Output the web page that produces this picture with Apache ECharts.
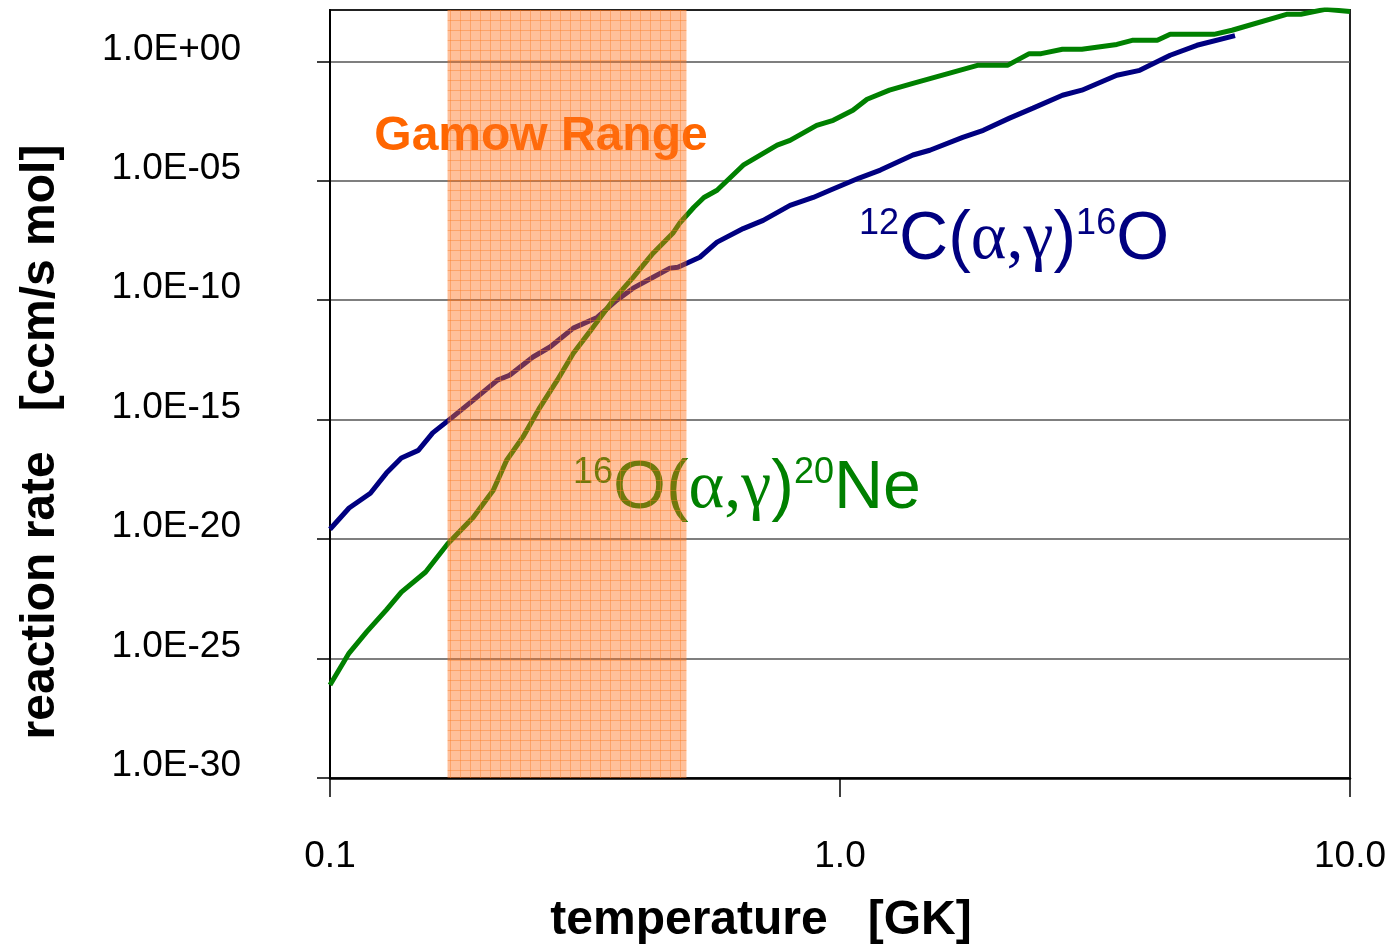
<!DOCTYPE html>
<html><head><meta charset="utf-8">
<script src="https://cdn.jsdelivr.net/npm/echarts@6/dist/echarts.min.js"></script>
<style>html,body{margin:0;padding:0;background:#fff}#c{width:1391px;height:947px}</style>
</head><body><div id="c"></div>
<script>
// temperature [GK] and reaction rate [ccm/s mol] for 12C(a,g)16O
const tempC = [0.100,0.109,0.120,0.129,0.138,0.149,0.159,0.170,0.191,0.213,0.225,0.250,0.270,0.300,0.334,0.365,0.393,0.430,0.464,0.481,0.531,0.574,0.646,0.707,0.798,0.886,0.956,1.09,1.20,1.39,1.50,1.74,1.91,2.15,2.39,2.73,2.98,3.49,3.87,4.44,5.01,5.95];
const rateC = [2.6e-20,2.0e-19,8.3e-19,5.8e-18,2.5e-17,5.2e-17,2.8e-16,8.7e-16,6.6e-15,4.5e-14,7.2e-14,4.2e-13,1.1e-12,6.8e-12,1.9e-11,1.0e-10,3.2e-10,9.1e-10,2.2e-9,2.4e-9,6.3e-9,2.7e-8,1.0e-7,2.2e-7,9.3e-7,2.0e-6,4.0e-6,1.3e-5,2.8e-5,1.2e-4,1.9e-4,6.6e-4,1.3e-3,4.2e-3,1.1e-2,3.8e-2,6.2e-2,0.26,0.42,1.8,4.7,12];
// 16O(a,g)20Ne
const tempO = [0.100,0.109,0.118,0.129,0.138,0.154,0.170,0.191,0.209,0.222,0.239,0.258,0.279,0.300,0.327,0.359,0.393,0.430,0.470,0.486,0.517,0.541,0.574,0.646,0.753,0.798,0.900,0.970,1.06,1.13,1.25,1.39,1.86,2.13,2.35,2.48,2.73,2.98,3.49,3.74,4.19,4.44,5.41,5.87,7.51,8.01,8.95,10.0];
const rateO = [7.8e-27,1.7e-25,1.3e-24,1.1e-23,6.0e-23,4.2e-22,6.2e-21,8.3e-20,1.1e-18,2.0e-17,1.9e-16,3.3e-15,4.5e-14,6.0e-13,6.8e-12,1.0e-10,9.1e-10,9.3e-9,6.3e-8,1.8e-7,7.8e-7,2.0e-6,4.0e-6,4.5e-5,3.1e-4,4.9e-4,2.1e-3,3.4e-3,8.9e-3,2.6e-2,6.2e-2,0.12,0.68,0.68,2.1,2.1,3.2,3.2,5.1,7.6,7.6,13.5,13.5,20,93,93,150,123];
const gamowRange = [0.17, 0.5];
const xTickValues = [0.1, 1, 10];
const xTickLabels = ['0.1','1.0','10.0'];
const yTickValues = [1e-30, 1e-25, 1e-20, 1e-15, 1e-10, 1e-5, 1];
const yTickLabels = ['1.0E-30','1.0E-25','1.0E-20','1.0E-15','1.0E-10','1.0E-05','1.0E+00'];
const xAxisName = 'temperature   [GK]';
const yAxisName = 'reaction rate   [ccm/s mol]';
const gamowLabel = 'Gamow Range';
const labelC = '{s|12}{m|C(}{g|α,γ}{m|)}{s|16}{m|O}';
const labelO = '{s|16}{m|O(}{g|α,γ}{m|)}{s|20}{m|Ne}';

const SANS = '"Liberation Sans", Arial, Helvetica, sans-serif';
const SERIF = '"Liberation Serif", "Times New Roman", serif';

// hatched orange pattern for Gamow band
const pc = document.createElement('canvas');
pc.width = 10; pc.height = 10;
const g = pc.getContext('2d');
g.fillStyle = 'rgba(255,112,24,0.44)';
g.fillRect(0, 0, 10, 10);
g.fillStyle = 'rgba(250,120,30,0.4)';
g.fillRect(0, 0, 10, 1);
g.fillRect(0, 0, 1, 10);

function nearestIndex(arr, v) {
  let best = -1, bd = Infinity;
  arr.forEach((a, i) => { const d = Math.abs(Math.log10(a) - Math.log10(v)); if (d < bd) { bd = d; best = i; } });
  return bd < 0.01 ? best : -1;
}

const chart = echarts.init(document.getElementById('c'));
function rich(color) {
  return {
    s: {fontSize: 36, fontFamily: SANS, fill: color, verticalAlign: 'top', lineHeight: 36},
    m: {fontSize: 68, fontFamily: SANS, fill: color, lineHeight: 68},
    g: {fontSize: 68, fontFamily: SERIF, fill: color, lineHeight: 68}
  };
}
chart.setOption({
  animation: false,
  backgroundColor: '#fff',
  grid: {left: 330, right: 41, top: 10, bottom: 169, show: true, borderColor: '#222', borderWidth: 2, containLabel: false, outerBoundsMode: 'none'},
  xAxis: {
    type: 'log', logBase: 10, min: 0.1, max: 10,
    axisLine: {lineStyle: {color: '#000', width: 2.5}},
    axisTick: {length: 19, lineStyle: {color: '#000', width: 1.5}},
    minorTick: {show: false},
    splitLine: {show: false},
    axisLabel: {margin: 60, fontSize: 37, color: '#000', fontFamily: SANS,
      formatter: v => { const i = nearestIndex(xTickValues, v); return i < 0 ? '' : xTickLabels[i]; }}
  },
  yAxis: {
    type: 'log', logBase: 10, min: 1e-30, max: 141, interval: 5,
    axisLine: {lineStyle: {color: '#000', width: 2}},
    axisTick: {length: 13, lineStyle: {color: '#000', width: 1.5}, customValues: yTickValues},
    splitLine: {lineStyle: {color: '#555', width: 1.5}},
    axisLabel: {margin: 89, fontSize: 37, color: '#000', fontFamily: SANS, verticalAlign: 'bottom', lineHeight: 24,
      showMinLabel: true, customValues: yTickValues,
      formatter: v => { const i = nearestIndex(yTickValues, v); return i < 0 ? '' : yTickLabels[i]; }}
  },
  series: [
    {type: 'line', name: '12C(a,g)16O', data: tempC.map((t, i) => [t, rateC[i]]), showSymbol: false, symbol: 'none',
      lineStyle: {color: '#000080', width: 5}, itemStyle: {color: '#000080'}, z: 3, silent: true},
    {type: 'line', name: '16O(a,g)20Ne', data: tempO.map((t, i) => [t, rateO[i]]), showSymbol: false, symbol: 'none',
      lineStyle: {color: '#008000', width: 5}, itemStyle: {color: '#008000'}, z: 3, silent: true},
    {type: 'line', name: 'Gamow', data: [], z: 10, silent: true,
      markArea: {silent: true, z: 10, itemStyle: {color: {image: pc, repeat: 'repeat'}, borderWidth: 0},
        data: [[{xAxis: gamowRange[0]}, {xAxis: gamowRange[1]}]]}}
  ],
  graphic: [
    {type: 'text', x: 761, y: 921, style: {text: xAxisName, fontSize: 48, fontWeight: 'bold', fontFamily: SANS, fill: '#000', align: 'center', verticalAlign: 'middle'}},
    {type: 'text', x: 41, y: 442, rotation: Math.PI / 2, style: {text: yAxisName, fontSize: 48, fontWeight: 'bold', fontFamily: SANS, fill: '#000', align: 'center', verticalAlign: 'middle'}},
    {type: 'text', x: 541, y: 137, style: {text: gamowLabel, fontSize: 48, fontWeight: 'bold', fontFamily: SANS, fill: '#FF6600', align: 'center', verticalAlign: 'middle'}},
    {type: 'text', x: 859, y: 240, style: {text: labelC, fill: '#000080', align: 'left', verticalAlign: 'middle', rich: rich('#000080')}},
    {type: 'text', x: 573, y: 489, style: {text: labelO, fill: '#008000', align: 'left', verticalAlign: 'middle', rich: rich('#008000')}}
  ]
});
</script>
</body></html>
